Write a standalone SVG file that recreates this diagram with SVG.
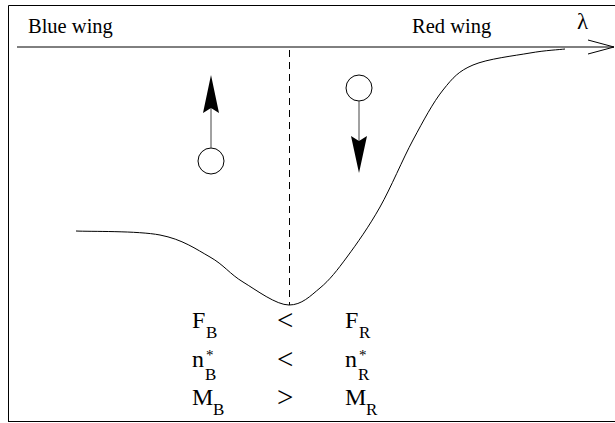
<svg xmlns="http://www.w3.org/2000/svg" width="615" height="423" viewBox="0 0 615 423">
<style>
text { font-family: "Liberation Serif", "Times New Roman", "DejaVu Serif", serif; fill: #000; }
.lbl { font-size: 20.5px; }
.big { font-size: 24px; }
.rel { font-size: 29px; }
.sub { font-size: 17px; }
.ast { font-size: 15px; }
.ln { fill: none; stroke: #000; stroke-width: 1; }
.thin { fill: none; stroke: #444; stroke-width: 1; }
.head { fill: #000; stroke: none; }
</style>
<rect width="615" height="423" fill="#fff"/>
<g id="frame">
<path class="ln" d="M8.5,421.5 V5.5 H620"/>
<path class="ln" d="M8,421.5 H620"/>
</g>
<g id="axis">
<path class="ln" d="M17,47 H614"/>
<path class="ln" d="M588,40 L614,47 L588,54"/>
<text class="lbl" x="28" y="33">Blue wing</text>
<text class="lbl" x="412" y="33">Red wing</text>
<text font-family="Liberation Serif, serif" font-size="23" x="577" y="29">λ</text>
</g>
<g id="profile">
<path class="ln" d="M76,231 C90,231.7 137.7,230.7 160,235 C182.3,239.3 196.2,249.2 210,257 C223.8,264.8 229.8,274 243,282 C256.2,290 276.2,305 289,305 C301.8,305 310.3,296 320,288 C329.7,280 337,270.5 347,257 C357,243.5 369,226.5 380,207 C391,187.5 402.5,159.5 413,140 C423.5,120.5 433,102.5 443,90 C453,77.5 458.5,71.2 473,65 C487.5,58.8 514.7,55.7 530,53 C545.3,50.3 559.2,49.7 565,49"/>
<path class="ln" d="M289.5,50 V305" stroke-dasharray="7 5"/>
</g>
<g id="blue-atom">
<circle class="ln" cx="211" cy="161" r="13"/>
<path class="thin" d="M211,148 V108"/>
<path class="head" d="M211,75 L219,113 L211,108 L203,113 Z"/>
</g>
<g id="red-atom">
<circle class="ln" cx="359" cy="88" r="13"/>
<path class="thin" d="M359,101 V141"/>
<path class="head" d="M359,173 L351,136 L359,141 L367,136 Z"/>
</g>
<g id="relations">
<text class="big" x="192" y="328">F</text>
<text class="sub" x="206" y="338">B</text>
<text class="rel" x="277" y="330">&lt;</text>
<text class="big" x="345" y="328">F</text>
<text class="sub" x="359" y="338">R</text>

<text class="big" x="192" y="367">n</text>
<text class="ast" x="206" y="360">*</text>
<text class="sub" x="205" y="380">B</text>
<text class="rel" x="277" y="369">&lt;</text>
<text class="big" x="345" y="367">n</text>
<text class="ast" x="359" y="360">*</text>
<text class="sub" x="358" y="380">R</text>

<text class="big" x="192" y="405">M</text>
<text class="sub" x="213" y="415">B</text>
<text class="rel" x="277" y="407">&gt;</text>
<text class="big" x="345" y="405">M</text>
<text class="sub" x="366" y="415">R</text>
</g>
</svg>
